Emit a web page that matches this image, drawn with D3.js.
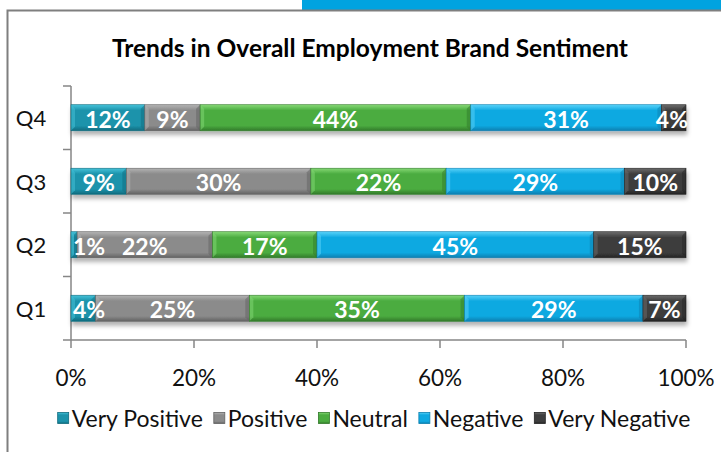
<!DOCTYPE html>
<html>
<head>
<meta charset="utf-8">
<script src="https://cdn.jsdelivr.net/npm/d3@7"></script>
<style>
  body { margin: 0; background: #fff; }
  svg { display: block; font-family: Lato, "Open Sans", sans-serif; }
</style>
</head>
<body>
<script>
var width = 721,
    height = 452;

// data
var quarters = ["Q4", "Q3", "Q2", "Q1"];
var sentiments = ["Very Positive", "Positive", "Neutral", "Negative", "Very Negative"];
var veryPositive = [12, 9, 1, 4];
var positive     = [9, 30, 22, 25];
var neutral      = [44, 22, 17, 35];
var negative     = [31, 29, 45, 29];
var veryNegative = [4, 10, 15, 7];
var xTicks = [0, 20, 40, 60, 80, 100];

var series = [veryPositive, positive, neutral, negative, veryNegative];

// base / light / dark shade per sentiment
var palette = [
  ["#1c93ab", "#45c3da", "#0f6b7e"],
  ["#8b8b8b", "#b4b4b4", "#626262"],
  ["#4bac40", "#86d977", "#327a2a"],
  ["#10a9e1", "#5ad3f9", "#0a7fb0"],
  ["#3e3e3e", "#6c6c6c", "#242424"]
];

var rows = quarters.map(function(q, i) {
  var r = { quarter: q };
  sentiments.forEach(function(s, j) { r[s] = series[j][i]; });
  return r;
});
var stacked = d3.stack().keys(sentiments)(rows);

var svg = d3.select("body").append("svg")
    .attr("width", width)
    .attr("height", height);

var defs = svg.append("defs");

palette.forEach(function(c, i) {
  var g = defs.append("linearGradient")
      .attr("id", "grad" + i)
      .attr("x1", 0).attr("y1", 0).attr("x2", 0).attr("y2", 1);
  g.append("stop").attr("offset", "0%").attr("stop-color", c[1]);
  g.append("stop").attr("offset", "22%").attr("stop-color", c[0]);
  g.append("stop").attr("offset", "80%").attr("stop-color", c[0]);
  g.append("stop").attr("offset", "100%").attr("stop-color", c[2]);
});

var shadow = defs.append("filter").attr("id", "shadow")
    .attr("x", "-5%").attr("y", "-20%").attr("width", "110%").attr("height", "160%");
shadow.append("feDropShadow")
    .attr("dx", 1).attr("dy", 4)
    .attr("stdDeviation", 2)
    .attr("flood-color", "#000")
    .attr("flood-opacity", 0.3);

// top strip and frame
svg.append("rect")
    .attr("x", 302).attr("y", 0)
    .attr("width", width - 302).attr("height", 10)
    .attr("fill", "#00a3e0");
svg.append("path")
    .attr("d", "M7.5," + height + "V10.5H" + width)
    .attr("fill", "none")
    .attr("stroke", "#7f7f7f")
    .attr("stroke-width", 2);

svg.append("text")
    .attr("x", 370).attr("y", 47)
    .attr("text-anchor", "middle")
    .attr("dominant-baseline", "central")
    .attr("font-size", 24.5)
    .attr("font-weight", "bold")
    .text("Trends in Overall Employment Brand Sentiment");

var x = d3.scaleLinear().domain([0, 100]).range([71, 686]);
var y = d3.scaleBand().domain(quarters).range([86, 340]).paddingInner(0.59).paddingOuter(0.295);
var band = d3.scaleBand().domain(quarters).range([86, 340]);

// axes
var axisColor = "#868686";
var yAxis = svg.append("g");
yAxis.append("line")
    .attr("x1", 71).attr("x2", 71)
    .attr("y1", 86).attr("y2", 340)
    .attr("stroke", axisColor).attr("stroke-width", 1.5);
yAxis.selectAll(".tick")
    .data(quarters.concat(["end"]))
    .enter().append("line")
    .attr("x1", 63).attr("x2", 71)
    .attr("y1", function(d, i) { return i < quarters.length ? band(d) : band.range()[1]; })
    .attr("y2", function(d, i) { return i < quarters.length ? band(d) : band.range()[1]; })
    .attr("stroke", axisColor).attr("stroke-width", 1.5);
yAxis.selectAll(".label")
    .data(quarters)
    .enter().append("text")
    .attr("x", 31)
    .attr("y", function(d) { return band(d) + band.bandwidth() / 2; })
    .attr("text-anchor", "middle")
    .attr("dominant-baseline", "central")
    .attr("font-size", 22)
    .attr("fill", "#111")
    .text(function(d) { return d; });

var xAxis = svg.append("g");
xAxis.append("line")
    .attr("x1", x(0)).attr("x2", x(100))
    .attr("y1", 340).attr("y2", 340)
    .attr("stroke", axisColor).attr("stroke-width", 1.5);
xAxis.selectAll(".tick")
    .data(xTicks)
    .enter().append("line")
    .attr("x1", function(d) { return x(d); })
    .attr("x2", function(d) { return x(d); })
    .attr("y1", 340).attr("y2", 348)
    .attr("stroke", axisColor).attr("stroke-width", 1.5);
xAxis.selectAll(".label")
    .data(xTicks)
    .enter().append("text")
    .attr("x", function(d) { return x(d); })
    .attr("y", 377)
    .attr("text-anchor", "middle")
    .attr("dominant-baseline", "central")
    .attr("font-size", 22.5)
    .attr("fill", "#111")
    .text(function(d) { return d + "%"; });

// bars
var bars = svg.append("g").attr("filter", "url(#shadow)");
var bevel = 4;

stacked.forEach(function(layer, i) {
  var g = bars.append("g");
  layer.forEach(function(d) {
    var x0 = x(d[0]), x1 = x(d[1]),
        y0 = y(d.data.quarter), y1 = y0 + y.bandwidth(),
        b = Math.min(bevel, (x1 - x0) / 2);
    g.append("rect")
        .attr("x", x0).attr("y", y0)
        .attr("width", x1 - x0).attr("height", y.bandwidth())
        .attr("fill", "url(#grad" + i + ")");
    // bevel corners: light on left, dark on right
    g.append("path")
        .attr("d", "M" + x0 + "," + y0 + "L" + (x0 + b) + "," + (y0 + b) + "L" + (x0 + b) + "," + (y1 - b) + "L" + x0 + "," + y1 + "Z")
        .attr("fill", palette[i][1]).attr("opacity", 0.5);
    g.append("path")
        .attr("d", "M" + x1 + "," + y0 + "L" + (x1 - b) + "," + (y0 + b) + "L" + (x1 - b) + "," + (y1 - b) + "L" + x1 + "," + y1 + "Z")
        .attr("fill", palette[i][2]).attr("opacity", 0.5);
    g.append("rect")
        .attr("x", x0).attr("y", y0)
        .attr("width", x1 - x0).attr("height", y.bandwidth())
        .attr("fill", "none")
        .attr("stroke", palette[i][2]).attr("stroke-width", 0.6);
  });
});

// value labels
var labels = svg.append("g");
stacked.forEach(function(layer) {
  layer.forEach(function(d) {
    var t = labels.append("text")
        .attr("y", y(d.data.quarter) + y.bandwidth() / 2 + 1)
        .attr("text-anchor", "middle")
        .attr("dominant-baseline", "central")
        .attr("font-size", 23)
        .attr("font-weight", "bold")
        .attr("fill", "#fff")
        .text((d[1] - d[0]) + "%");
    var w = t.node().getComputedTextLength(),
        cx = (x(d[0]) + x(d[1])) / 2;
    cx = Math.max(cx, x(0) + 2 + w / 2);
    cx = Math.min(cx, x(100) + 2 - w / 2);
    t.attr("x", cx);
  });
});

// legend
var legend = svg.append("g");
var items = [], pos = 0, gap = 11;
sentiments.forEach(function(s, i) {
  var it = legend.append("g");
  it.append("rect")
      .attr("x", 0).attr("y", -5.5)
      .attr("width", 11).attr("height", 11)
      .attr("fill", "url(#grad" + i + ")")
      .attr("stroke", palette[i][2]).attr("stroke-width", 0.8);
  var t = it.append("text")
      .attr("x", 14)
      .attr("dominant-baseline", "central")
      .attr("font-size", 23)
      .attr("fill", "#111")
      .text(s);
  var w = 14 + t.node().getComputedTextLength();
  items.push([it, pos]);
  pos += w + gap;
});
var total = pos - gap, start = 374 - total / 2;
items.forEach(function(p) {
  p[0].attr("transform", "translate(" + (start + p[1]) + ",418)");
});
</script>
</body>
</html>
